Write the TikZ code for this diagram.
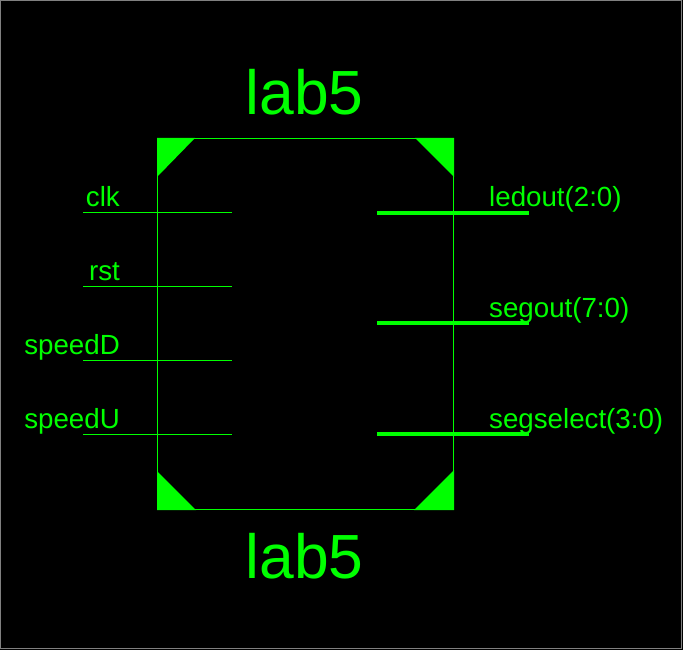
\documentclass[tikz,border=0pt]{standalone}
\usepackage{fontspec}
\setmainfont{Liberation Sans}
\usepackage{tikz}
\definecolor{schgreen}{RGB}{0,255,0}
\tikzset{
	title/.style={text=schgreen,font=\fontsize{62.4}{62.4}\selectfont,inner sep=0pt,anchor=base},
	pinlabel/.style={text=schgreen,font=\fontsize{27.7}{27.7}\selectfont,inner sep=0pt},
	buspin/.style={draw=schgreen,line width=4pt},
	wirepin/.style={draw=schgreen,line width=1pt}
}

\begin{document}
\begin{tikzpicture}[x=1pt,y=-1pt]
	\useasboundingbox (0,0) rectangle (683,650);
	% sheet background and its frame
	\fill[black] (0,0) rectangle (683,650);
	\draw[gray,line width=1pt] (0.5,0.5) rectangle (681.5,648);
	% symbol body
	\node[draw=schgreen,line width=1pt,minimum width=296pt,minimum height=371pt,inner sep=0pt,outer sep=0pt] (body) at (305.5,324) {};
	% corner markers
	\fill[schgreen] (157,138) -- (195,138) -- (157,177) -- cycle;
	\fill[schgreen] (415,138) -- (454,138) -- (454,177) -- cycle;
	\fill[schgreen] (157,471) -- (157,510) -- (196,510) -- cycle;
	\fill[schgreen] (414,510) -- (454,510) -- (454,470) -- cycle;
	% instance and cell name
	\node[title] (topname) at (304.5,115) {lab5};
	\node[title] (botname) at (304.5,578) {lab5};
	% input pins
	\coordinate (clkA) at (83,212.5);
	\coordinate (clkB) at (232,212.5);
	\coordinate (rstA) at (83,286.5);
	\coordinate (rstB) at (232,286.5);
	\coordinate (speedDA) at (83,360.5);
	\coordinate (speedDB) at (232,360.5);
	\coordinate (speedUA) at (83,434.5);
	\coordinate (speedUB) at (232,434.5);
	\draw[wirepin] (clkA) -- (clkB);
	\draw[wirepin] (rstA) -- (rstB);
	\draw[wirepin] (speedDA) -- (speedDB);
	\draw[wirepin] (speedUA) -- (speedUB);
	\node[pinlabel,anchor=base east] (clklabel) at (120,206) {clk};
	\node[pinlabel,anchor=base east] (rstlabel) at (120,280) {rst};
	\node[pinlabel,anchor=base east] (speedDlabel) at (120,354) {speedD};
	\node[pinlabel,anchor=base east] (speedUlabel) at (120,428) {speedU};
	% output buses
	\coordinate (ledA) at (377,212.7);
	\coordinate (ledB) at (529,212.7);
	\coordinate (segA) at (377,322.7);
	\coordinate (segB) at (529,322.7);
	\coordinate (selA) at (377,433.7);
	\coordinate (selB) at (529,433.7);
	\draw[buspin] (ledA) -- (ledB);
	\draw[buspin] (segA) -- (segB);
	\draw[buspin] (selA) -- (selB);
	\node[pinlabel,anchor=base west] (ledlabel) at (489,206) {ledout(2:0)};
	\node[pinlabel,anchor=base west] (seglabel) at (489,317) {segout(7:0)};
	\node[pinlabel,anchor=base west] (sellabel) at (489,428) {segselect(3:0)};
\end{tikzpicture}
\end{document}
